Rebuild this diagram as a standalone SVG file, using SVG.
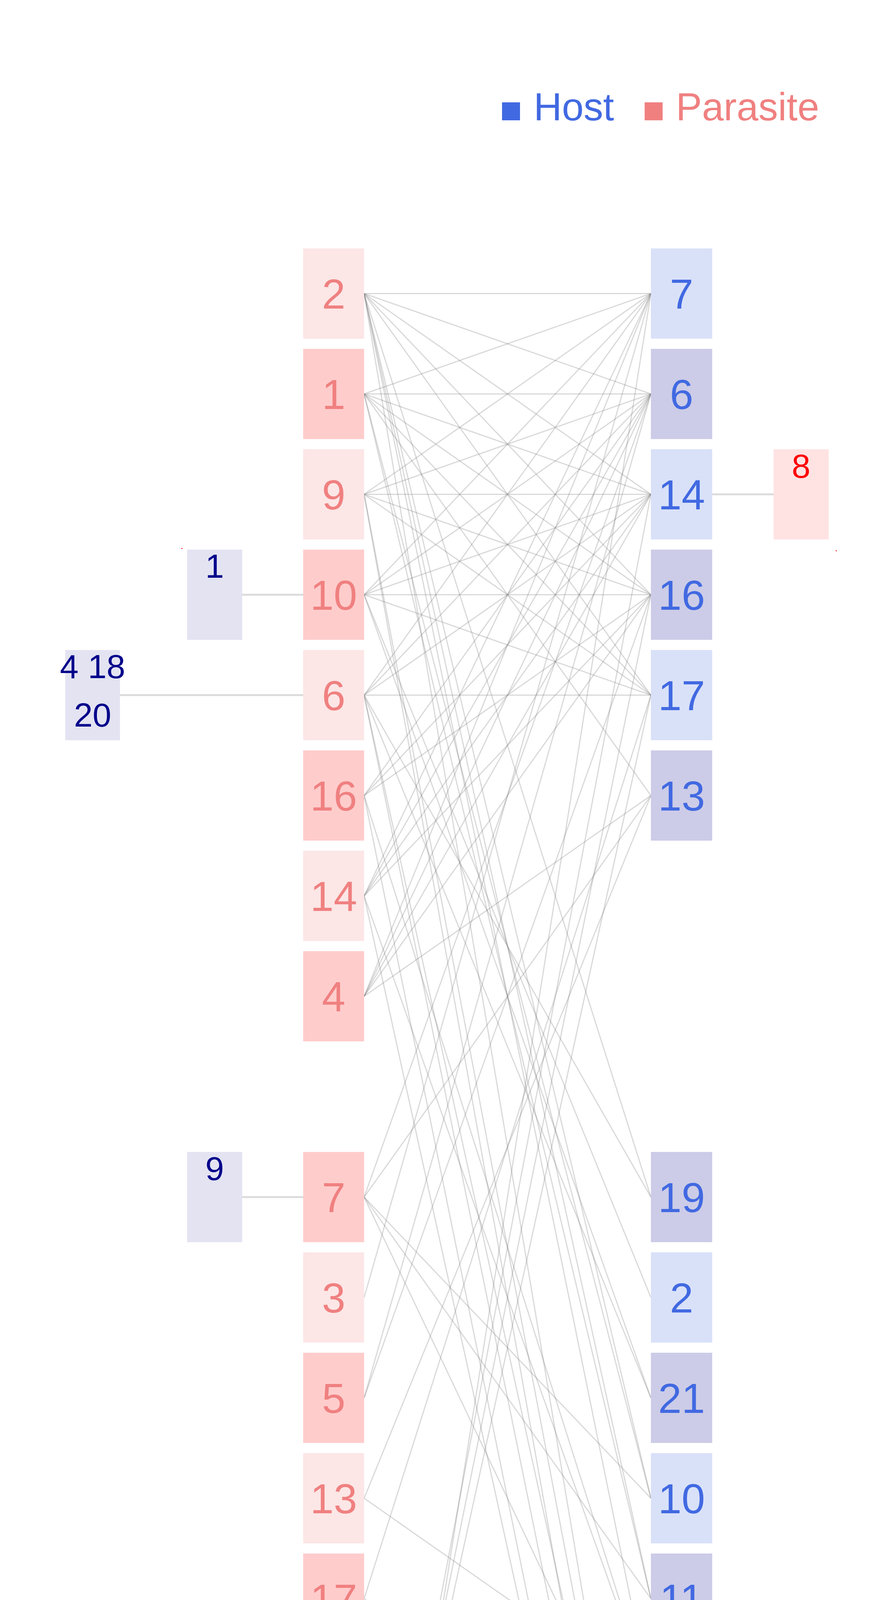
<svg xmlns="http://www.w3.org/2000/svg" width="2278" height="6120" viewBox="0 0 2278 6120">
<style>
.bg{fill:#ffffff}
.e{stroke:#808080;stroke-opacity:0.3;stroke-width:3;fill:none}
.c{stroke:#dcdcdc;stroke-width:5;fill:none}
.pl{fill:#fce6e6}
.pd{fill:#ffcccc}
.hl{fill:#d9e1f9}
.hd{fill:#ccccE8}
.xh{fill:#e3e3f2}
.xp{fill:#ffe3e3}
.dot{fill:#ff0000}
.pt{font-family:"Liberation Sans",Arial,sans-serif;font-size:108px;fill:#F08080;text-anchor:middle}
.ht{font-family:"Liberation Sans",Arial,sans-serif;font-size:108px;fill:#4169E1;text-anchor:middle}
.xht{font-family:"Liberation Sans",Arial,sans-serif;font-size:86px;fill:#00008B;text-anchor:middle}
.xpt{font-family:"Liberation Sans",Arial,sans-serif;font-size:86px;fill:#FF0000;text-anchor:middle}
.lg{font-family:"Liberation Sans",Arial,sans-serif;font-size:100px}
</style>
<rect class="bg" x="0" y="0" width="2278" height="6120"/>
<g id="legend">
<rect x="1285" y="262" width="46" height="46" fill="#4169E1"/>
<text class="lg" x="1366" y="308" fill="#4169E1">Host</text>
<rect x="1650" y="262" width="46" height="46" fill="#F08080"/>
<text class="lg" x="1730" y="308" fill="#F08080">Parasite</text>
</g>
<g id="connectors">
<line class="c" x1="620" y1="1522.5" x2="776" y2="1522.5"/>
<line class="c" x1="307" y1="1779.5" x2="776" y2="1779.5"/>
<line class="c" x1="620" y1="3064.5" x2="776" y2="3064.5"/>
<line class="c" x1="1823" y1="1265.5" x2="1980" y2="1265.5"/>
<line class="c" x1="1823" y1="5120.5" x2="1980" y2="5120.5"/>
<!-- P2 slot0 -->
<line class="e" x1="932" y1="751.5" x2="1666" y2="751.5"/>
<line class="e" x1="932" y1="751.5" x2="1666" y2="1008.5"/>
<line class="e" x1="932" y1="751.5" x2="1666" y2="1265.5"/>
<line class="e" x1="932" y1="751.5" x2="1666" y2="1522.5"/>
<line class="e" x1="932" y1="751.5" x2="1666" y2="1779.5"/>
<line class="e" x1="932" y1="751.5" x2="1666" y2="3064.5"/>
<line class="e" x1="932" y1="751.5" x2="1666" y2="3835.5"/>
<line class="e" x1="932" y1="751.5" x2="1666" y2="4092.5"/>
<line class="e" x1="932" y1="751.5" x2="1666" y2="4349.5"/>
<line class="e" x1="932" y1="751.5" x2="1666" y2="5120.5"/>
<!-- P1 slot1 -->
<line class="e" x1="932" y1="1008.5" x2="1666" y2="751.5"/>
<line class="e" x1="932" y1="1008.5" x2="1666" y2="1008.5"/>
<line class="e" x1="932" y1="1008.5" x2="1666" y2="1265.5"/>
<line class="e" x1="932" y1="1008.5" x2="1666" y2="1522.5"/>
<line class="e" x1="932" y1="1008.5" x2="1666" y2="1779.5"/>
<line class="e" x1="932" y1="1008.5" x2="1666" y2="2036.5"/>
<line class="e" x1="932" y1="1008.5" x2="1666" y2="3835.5"/>
<line class="e" x1="932" y1="1008.5" x2="1666" y2="4092.5"/>
<!-- P9 slot2 -->
<line class="e" x1="932" y1="1265.5" x2="1666" y2="751.5"/>
<line class="e" x1="932" y1="1265.5" x2="1666" y2="1008.5"/>
<line class="e" x1="932" y1="1265.5" x2="1666" y2="1265.5"/>
<line class="e" x1="932" y1="1265.5" x2="1666" y2="1522.5"/>
<line class="e" x1="932" y1="1265.5" x2="1666" y2="1779.5"/>
<line class="e" x1="932" y1="1265.5" x2="1666" y2="5120.5"/>
<line class="e" x1="932" y1="1265.5" x2="1666" y2="5377.5"/>
<!-- P10 slot3 -->
<line class="e" x1="932" y1="1522.5" x2="1666" y2="751.5"/>
<line class="e" x1="932" y1="1522.5" x2="1666" y2="1008.5"/>
<line class="e" x1="932" y1="1522.5" x2="1666" y2="1265.5"/>
<line class="e" x1="932" y1="1522.5" x2="1666" y2="1522.5"/>
<line class="e" x1="932" y1="1522.5" x2="1666" y2="1779.5"/>
<line class="e" x1="932" y1="1522.5" x2="1666" y2="3321.5"/>
<line class="e" x1="932" y1="1522.5" x2="1666" y2="3578.5"/>
<!-- P6 slot4 -->
<line class="e" x1="932" y1="1779.5" x2="1666" y2="751.5"/>
<line class="e" x1="932" y1="1779.5" x2="1666" y2="1008.5"/>
<line class="e" x1="932" y1="1779.5" x2="1666" y2="1265.5"/>
<line class="e" x1="932" y1="1779.5" x2="1666" y2="1779.5"/>
<line class="e" x1="932" y1="1779.5" x2="1666" y2="3064.5"/>
<line class="e" x1="932" y1="1779.5" x2="1666" y2="3578.5"/>
<line class="e" x1="932" y1="1779.5" x2="1666" y2="5120.5"/>
<line class="e" x1="932" y1="1779.5" x2="1666" y2="5377.5"/>
<!-- P16 slot5 -->
<line class="e" x1="932" y1="2036.5" x2="1666" y2="1008.5"/>
<line class="e" x1="932" y1="2036.5" x2="1666" y2="1265.5"/>
<line class="e" x1="932" y1="2036.5" x2="1666" y2="1522.5"/>
<line class="e" x1="932" y1="2036.5" x2="1666" y2="4349.5"/>
<line class="e" x1="932" y1="2036.5" x2="1666" y2="5634.5"/>
<!-- P14 slot6 -->
<line class="e" x1="932" y1="2293.5" x2="1666" y2="751.5"/>
<line class="e" x1="932" y1="2293.5" x2="1666" y2="1008.5"/>
<line class="e" x1="932" y1="2293.5" x2="1666" y2="1265.5"/>
<line class="e" x1="932" y1="2293.5" x2="1666" y2="1522.5"/>
<line class="e" x1="932" y1="2293.5" x2="1666" y2="4349.5"/>
<line class="e" x1="932" y1="2293.5" x2="1666" y2="5634.5"/>
<!-- P4 slot7 -->
<line class="e" x1="932" y1="2550.5" x2="1666" y2="751.5"/>
<line class="e" x1="932" y1="2550.5" x2="1666" y2="1008.5"/>
<line class="e" x1="932" y1="2550.5" x2="1666" y2="1265.5"/>
<line class="e" x1="932" y1="2550.5" x2="1666" y2="1522.5"/>
<line class="e" x1="932" y1="2550.5" x2="1666" y2="2036.5"/>
<!-- P7 slot9 -->
<line class="e" x1="932" y1="3064.5" x2="1666" y2="1008.5"/>
<line class="e" x1="932" y1="3064.5" x2="1666" y2="2036.5"/>
<line class="e" x1="932" y1="3064.5" x2="1666" y2="3835.5"/>
<line class="e" x1="932" y1="3064.5" x2="1666" y2="4092.5"/>
<line class="e" x1="932" y1="3064.5" x2="1666" y2="4606.5"/>
<!-- P3 slot10 -->
<line class="e" x1="932" y1="3321.5" x2="1666" y2="751.5"/>
<!-- P5 slot11 -->
<line class="e" x1="932" y1="3578.5" x2="1666" y2="1008.5"/>
<line class="e" x1="932" y1="3578.5" x2="1666" y2="1522.5"/>
<!-- P13 slot12 -->
<line class="e" x1="932" y1="3835.5" x2="1666" y2="2036.5"/>
<line class="e" x1="932" y1="3835.5" x2="1666" y2="4349.5"/>
<!-- P17 slot13 -->
<line class="e" x1="932" y1="4092.5" x2="1666" y2="1779.5"/>
<line class="e" x1="932" y1="4092.5" x2="1666" y2="4606.5"/>
<!-- P15 slot17 -->
<line class="e" x1="932" y1="5120.5" x2="1666" y2="1265.5"/>
<line class="e" x1="932" y1="5120.5" x2="1666" y2="1522.5"/>
<line class="e" x1="932" y1="5120.5" x2="1666" y2="1779.5"/>
<!-- P12 slot18 -->
<line class="e" x1="932" y1="5377.5" x2="1666" y2="751.5"/>
<line class="e" x1="932" y1="5377.5" x2="1666" y2="5120.5"/>
</g>
<g id="parasite-2"><rect class="pl" x="776" y="636" width="156" height="231"/><text class="pt" x="854" y="790">2</text></g>
<g id="parasite-1"><rect class="pd" x="776" y="893" width="156" height="231"/><text class="pt" x="854" y="1047">1</text></g>
<g id="parasite-9"><rect class="pl" x="776" y="1150" width="156" height="231"/><text class="pt" x="854" y="1304">9</text></g>
<g id="parasite-10"><rect class="pd" x="776" y="1407" width="156" height="231"/><text class="pt" x="854" y="1561">10</text></g>
<g id="parasite-6"><rect class="pl" x="776" y="1664" width="156" height="231"/><text class="pt" x="854" y="1818">6</text></g>
<g id="parasite-16"><rect class="pd" x="776" y="1921" width="156" height="231"/><text class="pt" x="854" y="2075">16</text></g>
<g id="parasite-14"><rect class="pl" x="776" y="2178" width="156" height="231"/><text class="pt" x="854" y="2332">14</text></g>
<g id="parasite-4"><rect class="pd" x="776" y="2435" width="156" height="231"/><text class="pt" x="854" y="2589">4</text></g>
<g id="parasite-7"><rect class="pd" x="776" y="2949" width="156" height="231"/><text class="pt" x="854" y="3103">7</text></g>
<g id="parasite-3"><rect class="pl" x="776" y="3206" width="156" height="231"/><text class="pt" x="854" y="3360">3</text></g>
<g id="parasite-5"><rect class="pd" x="776" y="3463" width="156" height="231"/><text class="pt" x="854" y="3617">5</text></g>
<g id="parasite-13"><rect class="pl" x="776" y="3720" width="156" height="231"/><text class="pt" x="854" y="3874">13</text></g>
<g id="parasite-17"><rect class="pd" x="776" y="3977" width="156" height="231"/><text class="pt" x="854" y="4131">17</text></g>
<g id="parasite-15"><rect class="pd" x="776" y="5005" width="156" height="231"/><text class="pt" x="854" y="5159">15</text></g>
<g id="parasite-12"><rect class="pl" x="776" y="5262" width="156" height="231"/><text class="pt" x="854" y="5416">12</text></g>
<g id="host-7"><rect class="hl" x="1666" y="636" width="157" height="231"/><text class="ht" x="1744.5" y="790">7</text></g>
<g id="host-6"><rect class="hd" x="1666" y="893" width="157" height="231"/><text class="ht" x="1744.5" y="1047">6</text></g>
<g id="host-14"><rect class="hl" x="1666" y="1150" width="157" height="231"/><text class="ht" x="1744.5" y="1304">14</text></g>
<g id="host-16"><rect class="hd" x="1666" y="1407" width="157" height="231"/><text class="ht" x="1744.5" y="1561">16</text></g>
<g id="host-17"><rect class="hl" x="1666" y="1664" width="157" height="231"/><text class="ht" x="1744.5" y="1818">17</text></g>
<g id="host-13"><rect class="hd" x="1666" y="1921" width="157" height="231"/><text class="ht" x="1744.5" y="2075">13</text></g>
<g id="host-19"><rect class="hd" x="1666" y="2949" width="157" height="231"/><text class="ht" x="1744.5" y="3103">19</text></g>
<g id="host-2"><rect class="hl" x="1666" y="3206" width="157" height="231"/><text class="ht" x="1744.5" y="3360">2</text></g>
<g id="host-21"><rect class="hd" x="1666" y="3463" width="157" height="231"/><text class="ht" x="1744.5" y="3617">21</text></g>
<g id="host-10"><rect class="hl" x="1666" y="3720" width="157" height="231"/><text class="ht" x="1744.5" y="3874">10</text></g>
<g id="host-11"><rect class="hd" x="1666" y="3977" width="157" height="231"/><text class="ht" x="1744.5" y="4131">11</text></g>
<g id="host-12"><rect class="hl" x="1666" y="4234" width="157" height="231"/><text class="ht" x="1744.5" y="4388">12</text></g>
<g id="host-8"><rect class="hd" x="1666" y="4491" width="157" height="231"/><text class="ht" x="1744.5" y="4645">8</text></g>
<g id="host-5"><rect class="hd" x="1666" y="5005" width="157" height="231"/><text class="ht" x="1744.5" y="5159">5</text></g>
<g id="host-3"><rect class="hl" x="1666" y="5262" width="157" height="231"/><text class="ht" x="1744.5" y="5416">3</text></g>
<g id="host-15"><rect class="hd" x="1666" y="5519" width="157" height="231"/><text class="ht" x="1744.5" y="5673">15</text></g>
<g id="host-box-1"><rect class="xh" x="479" y="1407" width="141" height="231"/><text class="xht" x="549.5" y="1479">1</text></g>
<g id="host-box-4-18-20"><rect class="xh" x="167" y="1664" width="140" height="231"/><text class="xht" x="237" y="1736">4 18</text><text class="xht" x="237" y="1860">20</text></g>
<g id="host-box-9"><rect class="xh" x="479" y="2949" width="141" height="231"/><text class="xht" x="549.5" y="3021">9</text></g>
<g id="parasite-box-8"><rect class="xp" x="1980" y="1150" width="141" height="231"/><text class="xpt" x="2050.5" y="1223">8</text></g>
<g id="parasite-box-11"><rect class="xp" x="1980" y="5005" width="141" height="231"/><text class="xpt" x="2050.5" y="5078">11</text></g>
<g id="marks">
<rect class="dot" x="464" y="1403" width="3" height="2"/>
<rect class="dot" x="2139" y="1409" width="3" height="2"/>
<rect class="dot" x="1301" y="5106" width="3" height="2"/>
</g>
</svg>
